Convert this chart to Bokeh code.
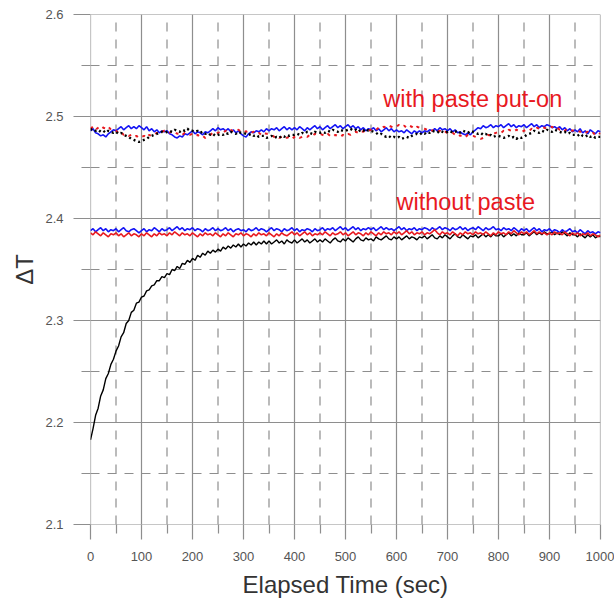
from bokeh.plotting import figure
from bokeh.models import Range1d, FixedTicker, Label
from bokeh.embed import file_html
from bokeh.resources import INLINE

# ---------------- data ----------------
time_s = list(range(0, 1001, 5))

x_ticks = [0, 100, 200, 300, 400, 500, 600, 700, 800, 900, 1000]
x_minor = [50, 150, 250, 350, 450, 550, 650, 750, 850, 950]
y_ticks = [2.1, 2.2, 2.3, 2.4, 2.5, 2.6]
y_minor = [2.15, 2.25, 2.35, 2.45, 2.55]

# with paste put-on
with_blue = [
    2.486, 2.488, 2.484, 2.483, 2.481, 2.482, 2.480, 2.483, 2.485, 2.487,
    2.486, 2.488, 2.490, 2.487, 2.489, 2.491, 2.488, 2.490, 2.488, 2.491,
    2.489, 2.487, 2.490, 2.486, 2.488, 2.485, 2.487, 2.484, 2.486, 2.485,
    2.486, 2.483, 2.482, 2.480, 2.479, 2.481, 2.480, 2.483, 2.482, 2.484,
    2.486, 2.483, 2.485, 2.484, 2.482, 2.485, 2.484, 2.486, 2.488, 2.486,
    2.489, 2.487, 2.488, 2.486, 2.488, 2.485, 2.487, 2.484, 2.486, 2.483,
    2.481, 2.480, 2.483, 2.485, 2.484, 2.486, 2.485, 2.487, 2.485, 2.488,
    2.486, 2.488, 2.487, 2.489, 2.486, 2.488, 2.490, 2.487, 2.489, 2.487,
    2.489, 2.487, 2.490, 2.488, 2.486, 2.489, 2.487, 2.489, 2.491, 2.488,
    2.490, 2.487, 2.489, 2.491, 2.488, 2.490, 2.492, 2.489, 2.491, 2.488,
    2.490, 2.492, 2.489, 2.491, 2.488, 2.490, 2.487, 2.489, 2.486, 2.488,
    2.487, 2.489, 2.486, 2.488, 2.485, 2.487, 2.489, 2.486, 2.488, 2.485,
    2.487, 2.485, 2.486, 2.484, 2.487, 2.485, 2.483, 2.486, 2.484, 2.486,
    2.484, 2.486, 2.485, 2.487, 2.486, 2.488, 2.486, 2.489, 2.487, 2.488,
    2.486, 2.488, 2.485, 2.487, 2.484, 2.485, 2.483, 2.482, 2.484, 2.482,
    2.485, 2.487, 2.489, 2.488, 2.491, 2.489, 2.490, 2.492, 2.489, 2.491,
    2.490, 2.492, 2.489, 2.491, 2.493, 2.490, 2.492, 2.489, 2.491, 2.490,
    2.492, 2.489, 2.491, 2.493, 2.490, 2.492, 2.489, 2.491, 2.490, 2.492,
    2.491, 2.489, 2.490, 2.488, 2.490, 2.487, 2.489, 2.486, 2.488, 2.485,
    2.487, 2.485, 2.488, 2.484, 2.486, 2.483, 2.487, 2.485, 2.483, 2.486,
    2.485,
]

with_black = [
    2.487, 2.488, 2.486, 2.487, 2.485, 2.486, 2.484, 2.486, 2.485, 2.484,
    2.485, 2.483, 2.484, 2.482, 2.481, 2.480, 2.478, 2.477, 2.476, 2.475,
    2.476, 2.477, 2.478, 2.480, 2.481, 2.482, 2.483, 2.484, 2.485, 2.484,
    2.485, 2.486, 2.485, 2.487, 2.486, 2.485, 2.487, 2.486, 2.488, 2.486,
    2.486, 2.485, 2.486, 2.484, 2.485, 2.483, 2.484, 2.482, 2.483, 2.481,
    2.482, 2.483, 2.482, 2.484, 2.483, 2.485, 2.484, 2.483, 2.485, 2.484,
    2.484, 2.483, 2.482, 2.483, 2.481, 2.482, 2.480, 2.481, 2.481, 2.479,
    2.480, 2.481, 2.479, 2.480, 2.479, 2.481, 2.480, 2.482, 2.481, 2.482,
    2.482, 2.483, 2.482, 2.484, 2.483, 2.485, 2.484, 2.483, 2.485, 2.484,
    2.484, 2.485, 2.484, 2.486, 2.485, 2.487, 2.486, 2.485, 2.487, 2.486,
    2.486, 2.487, 2.488, 2.486, 2.487, 2.485, 2.487, 2.486, 2.488, 2.486,
    2.486, 2.485, 2.484, 2.482, 2.483, 2.481, 2.480, 2.481, 2.479, 2.480,
    2.479, 2.480, 2.478, 2.479, 2.480, 2.479, 2.481, 2.482, 2.483, 2.482,
    2.484, 2.483, 2.485, 2.484, 2.486, 2.485, 2.484, 2.486, 2.485, 2.484,
    2.485, 2.486, 2.484, 2.485, 2.486, 2.484, 2.486, 2.485, 2.484, 2.486,
    2.485, 2.484, 2.483, 2.484, 2.482, 2.483, 2.481, 2.482, 2.480, 2.481,
    2.481, 2.480, 2.479, 2.480, 2.481, 2.479, 2.480, 2.478, 2.480, 2.479,
    2.480, 2.482, 2.483, 2.484, 2.486, 2.485, 2.484, 2.486, 2.485, 2.487,
    2.486, 2.485, 2.487, 2.486, 2.485, 2.484, 2.485, 2.483, 2.484, 2.482,
    2.482, 2.481, 2.483, 2.481, 2.480, 2.482, 2.480, 2.481, 2.479, 2.480,
    2.480,
]

with_red = [
    2.488, 2.490, 2.487, 2.489, 2.491, 2.489, 2.488, 2.490, 2.487, 2.486,
    2.486, 2.484, 2.485, 2.482, 2.483, 2.481, 2.482, 2.480, 2.481, 2.479,
    2.480, 2.481, 2.479, 2.482, 2.481, 2.482, 2.484, 2.483, 2.485, 2.486,
    2.486, 2.484, 2.486, 2.485, 2.483, 2.484, 2.482, 2.484, 2.483, 2.482,
    2.483, 2.481, 2.482, 2.480, 2.481, 2.479, 2.481, 2.482, 2.484, 2.483,
    2.484, 2.485, 2.484, 2.486, 2.485, 2.487, 2.485, 2.486, 2.487, 2.485,
    2.486, 2.485, 2.486, 2.484, 2.485, 2.483, 2.484, 2.482, 2.484, 2.483,
    2.483, 2.482, 2.480, 2.481, 2.479, 2.480, 2.481, 2.479, 2.480, 2.478,
    2.480, 2.481, 2.479, 2.480, 2.481, 2.480, 2.482, 2.481, 2.483, 2.482,
    2.483, 2.482, 2.481, 2.483, 2.481, 2.480, 2.482, 2.481, 2.480, 2.482,
    2.481, 2.483, 2.482, 2.484, 2.485, 2.484, 2.486, 2.485, 2.487, 2.486,
    2.487, 2.488, 2.487, 2.489, 2.488, 2.490, 2.489, 2.491, 2.490, 2.489,
    2.490, 2.492, 2.490, 2.491, 2.489, 2.491, 2.490, 2.488, 2.490, 2.489,
    2.489, 2.488, 2.487, 2.488, 2.486, 2.487, 2.485, 2.486, 2.484, 2.485,
    2.484, 2.483, 2.484, 2.482, 2.483, 2.481, 2.482, 2.480, 2.482, 2.481,
    2.481, 2.480, 2.479, 2.478, 2.479, 2.480, 2.482, 2.481, 2.483, 2.484,
    2.485, 2.484, 2.486, 2.485, 2.487, 2.486, 2.485, 2.487, 2.486, 2.485,
    2.486, 2.487, 2.486, 2.488, 2.487, 2.489, 2.488, 2.490, 2.489, 2.488,
    2.489, 2.490, 2.488, 2.489, 2.487, 2.488, 2.486, 2.488, 2.487, 2.486,
    2.487, 2.486, 2.485, 2.486, 2.484, 2.485, 2.483, 2.484, 2.482, 2.484,
    2.483,
]

# without paste
without_blue = [
    2.388, 2.390, 2.387, 2.389, 2.391, 2.388, 2.390, 2.387, 2.389, 2.388,
    2.390, 2.387, 2.389, 2.391, 2.388, 2.387, 2.389, 2.390, 2.388, 2.386,
    2.388, 2.390, 2.387, 2.389, 2.388, 2.391, 2.389, 2.387, 2.390, 2.388,
    2.389, 2.391, 2.388, 2.390, 2.392, 2.389, 2.391, 2.388, 2.390, 2.389,
    2.391, 2.388, 2.390, 2.389, 2.387, 2.390, 2.388, 2.389, 2.391, 2.388,
    2.390, 2.388, 2.389, 2.391, 2.388, 2.390, 2.387, 2.389, 2.390, 2.388,
    2.389, 2.387, 2.390, 2.388, 2.389, 2.391, 2.388, 2.390, 2.389, 2.387,
    2.389, 2.391, 2.388, 2.390, 2.389, 2.387, 2.390, 2.388, 2.389, 2.391,
    2.388, 2.390, 2.387, 2.389, 2.388, 2.390, 2.389, 2.387, 2.390, 2.388,
    2.389, 2.391, 2.388, 2.390, 2.389, 2.391, 2.388, 2.390, 2.392, 2.389,
    2.391, 2.388, 2.390, 2.392, 2.389, 2.391, 2.388, 2.390, 2.389, 2.391,
    2.389, 2.391, 2.388, 2.390, 2.392, 2.389, 2.391, 2.389, 2.390, 2.388,
    2.390, 2.392, 2.389, 2.391, 2.388, 2.390, 2.389, 2.391, 2.388, 2.390,
    2.389, 2.391, 2.390, 2.388, 2.391, 2.389, 2.390, 2.392, 2.389, 2.391,
    2.390, 2.388, 2.391, 2.389, 2.390, 2.392, 2.389, 2.391, 2.388, 2.390,
    2.391, 2.389, 2.392, 2.390, 2.388, 2.391, 2.389, 2.390, 2.392, 2.389,
    2.390, 2.388, 2.391, 2.389, 2.390, 2.388, 2.391, 2.389, 2.387, 2.390,
    2.388, 2.390, 2.387, 2.389, 2.391, 2.388, 2.390, 2.387, 2.389, 2.388,
    2.390, 2.387, 2.389, 2.388, 2.386, 2.389, 2.387, 2.388, 2.390, 2.387,
    2.388, 2.386, 2.389, 2.387, 2.385, 2.388, 2.386, 2.387, 2.385, 2.387,
    2.386,
]

without_red = [
    2.386, 2.384, 2.387, 2.385, 2.383, 2.386, 2.384, 2.382, 2.385, 2.384,
    2.386, 2.383, 2.385, 2.382, 2.384, 2.386, 2.383, 2.385, 2.384, 2.382,
    2.385, 2.383, 2.386, 2.384, 2.382, 2.385, 2.383, 2.386, 2.384, 2.385,
    2.383, 2.386, 2.384, 2.387, 2.385, 2.383, 2.386, 2.384, 2.385, 2.383,
    2.386, 2.384, 2.382, 2.385, 2.383, 2.386, 2.384, 2.385, 2.383, 2.386,
    2.384, 2.382, 2.385, 2.383, 2.386, 2.384, 2.382, 2.385, 2.384, 2.386,
    2.383, 2.385, 2.384, 2.382, 2.385, 2.383, 2.386, 2.384, 2.385, 2.383,
    2.386, 2.384, 2.382, 2.385, 2.383, 2.386, 2.384, 2.383, 2.385, 2.387,
    2.384, 2.386, 2.383, 2.385, 2.387, 2.384, 2.386, 2.383, 2.385, 2.384,
    2.386, 2.384, 2.387, 2.385, 2.383, 2.386, 2.384, 2.385, 2.387, 2.384,
    2.386, 2.383, 2.385, 2.387, 2.384, 2.386, 2.385, 2.383, 2.386, 2.384,
    2.387, 2.385, 2.383, 2.386, 2.384, 2.387, 2.385, 2.386, 2.384, 2.387,
    2.385, 2.387, 2.384, 2.386, 2.388, 2.385, 2.387, 2.384, 2.386, 2.385,
    2.387, 2.384, 2.386, 2.385, 2.387, 2.389, 2.386, 2.384, 2.387, 2.385,
    2.386, 2.384, 2.387, 2.385, 2.383, 2.386, 2.384, 2.387, 2.385, 2.386,
    2.384, 2.387, 2.385, 2.386, 2.384, 2.387, 2.385, 2.383, 2.386, 2.384,
    2.387, 2.385, 2.386, 2.384, 2.387, 2.385, 2.388, 2.386, 2.384, 2.387,
    2.385, 2.387, 2.384, 2.386, 2.388, 2.385, 2.387, 2.385, 2.386, 2.384,
    2.386, 2.384, 2.387, 2.385, 2.386, 2.384, 2.387, 2.385, 2.383, 2.386,
    2.384, 2.386, 2.383, 2.385, 2.384, 2.386, 2.383, 2.385, 2.384, 2.382,
    2.384,
]

without_black = [
    2.183, 2.194, 2.207, 2.214, 2.226, 2.232, 2.243, 2.248, 2.257, 2.262,
    2.270, 2.275, 2.284, 2.288, 2.297, 2.300, 2.308, 2.310, 2.317, 2.318,
    2.323, 2.324, 2.329, 2.330, 2.334, 2.335, 2.339, 2.339, 2.343, 2.342,
    2.346, 2.345, 2.350, 2.349, 2.353, 2.351, 2.356, 2.355, 2.359, 2.357,
    2.361, 2.359, 2.364, 2.362, 2.366, 2.364, 2.368, 2.366, 2.369, 2.367,
    2.370, 2.368, 2.372, 2.370, 2.373, 2.371, 2.374, 2.372, 2.375, 2.372,
    2.375, 2.373, 2.376, 2.374, 2.377, 2.374, 2.377, 2.375, 2.378, 2.375,
    2.378, 2.375, 2.377, 2.379, 2.376, 2.378, 2.375, 2.379, 2.377, 2.376,
    2.379, 2.376, 2.378, 2.380, 2.377, 2.379, 2.376, 2.378, 2.380, 2.377,
    2.379, 2.377, 2.380, 2.378, 2.376, 2.379, 2.381, 2.378, 2.377, 2.380,
    2.378, 2.381, 2.379, 2.377, 2.380, 2.382, 2.379, 2.378, 2.381, 2.379,
    2.380, 2.378, 2.382, 2.380, 2.379, 2.381, 2.383, 2.380, 2.379, 2.382,
    2.380, 2.382, 2.379, 2.381, 2.383, 2.380, 2.382, 2.381, 2.379, 2.382,
    2.381, 2.383, 2.380, 2.382, 2.384, 2.381, 2.380, 2.383, 2.381, 2.384,
    2.382, 2.380, 2.383, 2.385, 2.382, 2.381, 2.384, 2.382, 2.380, 2.383,
    2.382, 2.384, 2.381, 2.383, 2.385, 2.382, 2.384, 2.382, 2.385, 2.383,
    2.383, 2.385, 2.382, 2.384, 2.386, 2.383, 2.385, 2.383, 2.386, 2.384,
    2.384, 2.386, 2.383, 2.385, 2.387, 2.384, 2.386, 2.384, 2.387, 2.385,
    2.385, 2.387, 2.384, 2.386, 2.384, 2.387, 2.385, 2.383, 2.386, 2.384,
    2.384, 2.382, 2.385, 2.383, 2.381, 2.384, 2.382, 2.384, 2.381, 2.383,
    2.382,
]

# ---------------- figure ----------------
GRID = "#8e8e8e"
FONT = "Liberation Sans"
RED = "#e8191f"
BLUE = "#1414f5"
X0, X1 = x_ticks[0], x_ticks[-1]
Y0, Y1 = y_ticks[0], y_ticks[-1]

p = figure(
    frame_width=510, frame_height=510,
    x_range=Range1d(X0, X1), y_range=Range1d(Y0, Y1),
    output_backend="svg", toolbar_location=None,
    min_border_left=90, min_border_top=14, min_border_right=14, min_border_bottom=6,
)
p.outline_line_color = None
p.background_fill_color = "white"
p.xgrid.visible = False
p.ygrid.visible = False

# grid drawn in data space so it stops exactly at the range ends
n_x, n_xm, n_y, n_ym = len(x_ticks), len(x_minor), len(y_ticks), len(y_minor)
p.segment(x0=x_ticks, x1=x_ticks, y0=[Y0] * n_x, y1=[Y1] * n_x,
          line_color=GRID, line_width=1.2)
p.segment(x0=[X0] * n_y, x1=[X1] * n_y, y0=y_ticks, y1=y_ticks,
          line_color=GRID, line_width=1.2)
p.segment(x0=x_minor, x1=x_minor, y0=[Y0] * n_xm, y1=[Y1] * n_xm,
          line_color=GRID, line_width=1.2, line_dash="9 8")
p.segment(x0=[X0] * n_ym, x1=[X1] * n_ym, y0=y_minor, y1=y_minor,
          line_color=GRID, line_width=1.2, line_dash="9 8")

# axes
p.xaxis.ticker = FixedTicker(ticks=x_ticks, minor_ticks=x_minor)
p.yaxis.ticker = FixedTicker(ticks=y_ticks, minor_ticks=y_minor)
for ax in (p.xaxis[0], p.yaxis[0]):
    ax.axis_line_color = None
    ax.major_tick_in = 0
    ax.minor_tick_in = 0
    ax.major_tick_line_color = GRID
    ax.minor_tick_line_color = GRID
    ax.major_tick_line_width = 1.2
    ax.minor_tick_line_width = 1.2
    ax.major_label_text_font = FONT
    ax.major_label_text_font_size = "13px"
    ax.major_label_text_color = "#555555"
    ax.axis_label_text_font = FONT
    ax.axis_label_text_font_style = "normal"
    ax.axis_label_text_font_size = "24px"
    ax.axis_label_text_color = "#333333"
p.xaxis.major_tick_out = 15
p.xaxis.minor_tick_out = 9
p.yaxis.major_tick_out = 17
p.yaxis.minor_tick_out = 9
p.xaxis.major_label_standoff = 12
p.yaxis.major_label_standoff = 10
p.xaxis.axis_label = "Elapsed Time (sec)"
p.yaxis.axis_label = "\u0394T"
p.xaxis.axis_label_standoff = 7
p.yaxis.axis_label_standoff = 4

# data lines
p.line(time_s, without_black, line_color="black", line_width=1.4)
p.line(time_s, without_blue, line_color=BLUE, line_width=1.6)
p.line(time_s, without_red, line_color=RED, line_width=1.6)

p.line(time_s, with_blue, line_color=BLUE, line_width=1.6)
p.line(time_s, with_red, line_color=RED, line_width=2, line_dash="3 5")
p.line(time_s, with_black, line_color="black", line_width=2.4, line_dash="2 3")

# annotations
p.add_layout(Label(x=574, y=2.517, text="with paste put-on", text_color=RED,
                   text_font=FONT, text_font_size="23.5px", text_baseline="alphabetic"))
p.add_layout(Label(x=600, y=2.416, text="without paste", text_color=RED,
                   text_font=FONT, text_font_size="23.5px", text_baseline="alphabetic"))

open("out.html", "w").write(file_html(p, INLINE))
